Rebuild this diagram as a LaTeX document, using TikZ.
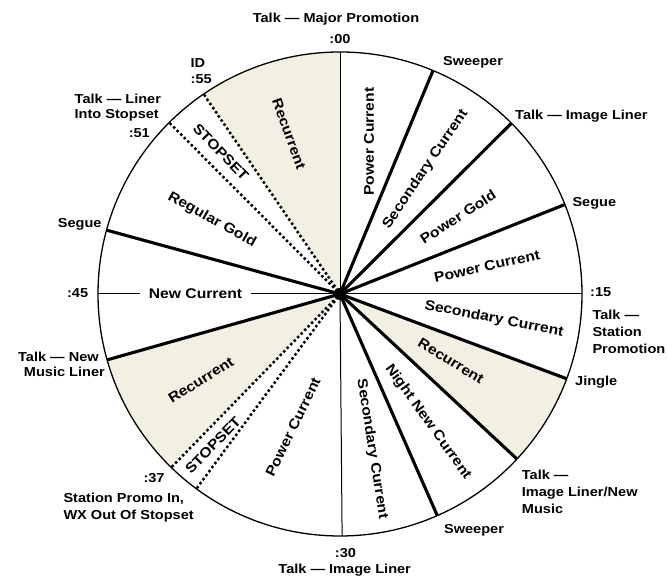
\documentclass[tikz,border=0pt]{standalone}
\usepackage{fontspec}
\setmainfont{Liberation Sans}[FakeStretch=1.12]
\usepackage{tikz}
\usetikzlibrary{calc}
\definecolor{wedge}{RGB}{242,240,226}

\begin{document}
\begin{tikzpicture}[x=1pt,y=1pt,
  spoke/.style={line width=3.1pt},
  tick/.style={line width=1pt},
  stopline/.style={line width=3.5pt,line cap=round,dash pattern=on 0pt off 5pt},
  outer/.style={font=\fontsize{13}{15}\selectfont\bfseries,inner sep=0pt},
  inner/.style={font=\fontsize{14}{16}\selectfont\bfseries,inner sep=0pt}]
 \useasboundingbox (0,0) rectangle (667,577);
 \coordinate (c) at (340,283);
 \def\R{242}
 % shaded wedges
 \fill[wedge] (c) -- ++(90:\R) arc[start angle=90,end angle=124.3,radius=\R] -- cycle;
 \fill[wedge] (c) -- ++(195.8:\R) arc[start angle=195.8,end angle=225.8,radius=\R] -- cycle;
 \fill[wedge] (c) -- ++(-20.5:\R) arc[start angle=-20.5,end angle=-43,radius=\R] -- cycle;
 % spokes
 \foreach \a in {90,0,-89.5,180} \draw[tick] (c) -- ++(\a:\R);
 \foreach \a in {67.4,44.9,21.7,-20.5,-43,-66.3,195.8,164.7} \draw[spoke] (c) -- ++(\a:\R);
 \foreach \a in {124.3,134.9,225.8,233.6} \draw[stopline] (c) -- ++(\a:\R);
 \draw[line width=1.3pt] (c) circle[radius=\R];
 \fill (c) circle[radius=6];
 % segments
 \node[inner,rotate=90] (pc1) at (369,435.3) {Power Current};
 \node[inner,rotate=56] (sc1) at (425.5,407.7) {Secondary Current};
 \node[inner,rotate=33] (pg) at (458,360) {Power Gold};
 \node[inner,rotate=12.5] (pc2) at (487,311) {Power Current};
 \node[inner,rotate=-11] (sc2) at (494,258) {Secondary Current};
 \node[inner,rotate=-31.5] (rc1) at (451,216) {Recurrent};
 \node[inner,rotate=-54.5] (nnc) at (428,155) {Night New Current};
 \node[inner,rotate=-81] (sc3) at (372,128) {Secondary Current};
 \node[inner,rotate=64] (pc3) at (293,150) {Power Current};
 \node[inner,rotate=46] (ss1) at (213,132) {STOPSET};
 \node[inner,rotate=32] (rc2) at (201,197) {Recurrent};
 \node[inner,fill=white,inner xsep=9pt,inner ysep=2pt] (nc) at (195.5,283) {New Current};
 \node[inner,rotate=-29] (rg) at (212,357) {Regular Gold};
 \node[inner,rotate=-46] (ss2) at (221,425) {STOPSET};
 \node[inner,rotate=-70] (rc3) at (289,443) {Recurrent};
 % clock marks
 \node[outer,anchor=base] (t00) at (336,554.5) {Talk — Major Promotion};
 \node[outer,anchor=base] (m00) at (340,533.6) {:00};
 \node[outer,anchor=base] (sw1) at (473,511.7) {Sweeper};
 \node[outer,anchor=base west] (il1) at (515,457) {Talk — Image Liner};
 \node[outer,anchor=base west] (sg1) at (572.3,370.3) {Segue};
 \node[outer,anchor=base west] (m15) at (590,280.3) {:15};
 \node[outer,anchor=base west] (tsp1) at (592.3,257.7) {Talk —};
 \node[outer,anchor=base west] (tsp2) at (592.3,240.3) {Station};
 \node[outer,anchor=base west] (tsp3) at (592.3,223.7) {Promotion};
 \node[outer,anchor=base west] (jg) at (575,191) {Jingle};
 \node[outer,anchor=base west] (il2a) at (521.7,97.7) {Talk —};
 \node[outer,anchor=base west] (il2b) at (521.7,80.3) {Image Liner/New};
 \node[outer,anchor=base west] (il2c) at (521.7,63.7) {Music};
 \node[outer,anchor=base] (sw2) at (474,43) {Sweeper};
 \node[outer,anchor=base] (m30) at (345.5,19.7) {:30};
 \node[outer,anchor=base] (il3) at (344.7,3) {Talk — Image Liner};
 \node[outer,anchor=base west] (m37) at (143.3,94.3) {:37};
 \node[outer,anchor=base west] (sp1) at (63.3,74.3) {Station Promo In,};
 \node[outer,anchor=base west] (sp2) at (63.3,57.7) {WX Out Of Stopset};
 \node[outer,anchor=base east] (nm1) at (99,215.3) {Talk — New};
 \node[outer,anchor=base east] (nm2) at (105,200.3) {Music Liner};
 \node[outer,anchor=base east] (m45) at (88.3,279) {:45};
 \node[outer,anchor=base east] (sg2) at (101.7,349) {Segue};
 \node[outer,anchor=base west] (ls1) at (74.5,473) {Talk — Liner};
 \node[outer,anchor=base west] (ls2) at (74.5,458) {Into Stopset};
 \node[outer,anchor=base east] (m51) at (150,439) {:51};
 \node[outer,anchor=base west] (id) at (190.5,509) {ID};
 \node[outer,anchor=base west] (m55) at (190.5,493.7) {:55};
\end{tikzpicture}
\end{document}
